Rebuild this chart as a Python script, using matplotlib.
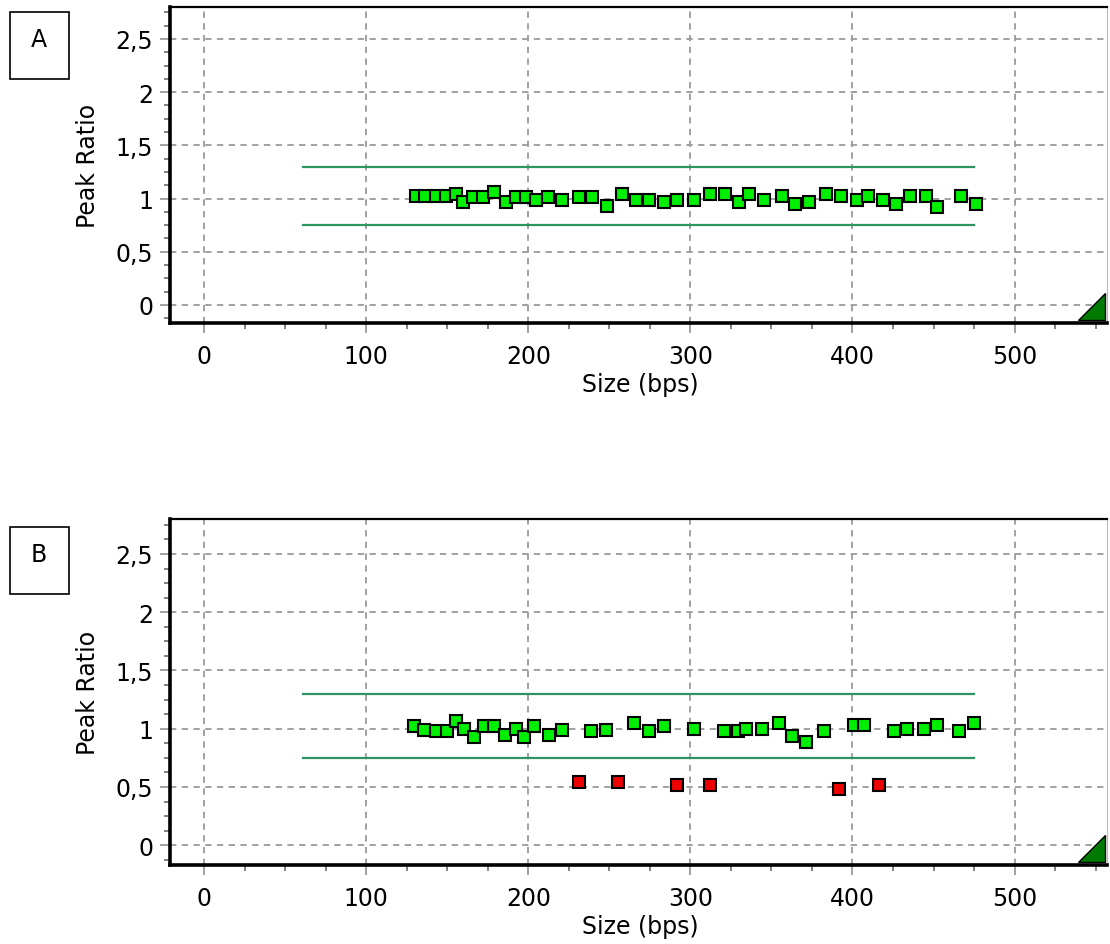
import matplotlib
matplotlib.use("Agg")
import matplotlib.pyplot as plt
from matplotlib.ticker import MultipleLocator, FuncFormatter
from matplotlib.patches import Polygon, Rectangle

# ---------------- data ----------------
a_size = [130.5, 136.6, 143.2, 149.4, 155.5, 160.0, 166.2, 172.3, 178.6, 186.3,
          192.4, 198.6, 204.7, 212.3, 221.1, 231.4, 239.6, 248.8, 258.0, 266.3,
          274.5, 284.0, 291.9, 302.2, 311.8, 321.2, 329.8, 336.0, 345.7, 356.5,
          364.3, 372.9, 383.6, 393.0, 402.6, 409.8, 419.0, 426.6, 435.5, 445.1,
          451.9, 466.9, 475.9]
a_ratio = [1.02, 1.02, 1.02, 1.02, 1.04, 0.97, 1.01, 1.01, 1.06, 0.97,
           1.01, 1.01, 0.99, 1.01, 0.99, 1.01, 1.01, 0.93, 1.04, 0.99,
           0.99, 0.97, 0.99, 0.99, 1.04, 1.04, 0.97, 1.04, 0.99, 1.02,
           0.95, 0.97, 1.04, 1.02, 0.99, 1.02, 0.99, 0.95, 1.02, 1.02,
           0.92, 1.02, 0.95]

b_size = [129.8, 135.4, 143.2, 149.7, 155.5, 160.6, 166.8, 172.9, 179.1, 185.8,
          192.4, 197.5, 203.7, 212.5, 220.7, 238.5, 248.2, 265.2, 274.5, 283.7,
          302.2, 321.0, 329.4, 334.6, 344.2, 354.5, 362.6, 371.3, 382.2, 401.2,
          407.4, 425.8, 433.4, 444.3, 451.9, 465.8, 475.1]
b_ratio = [1.02, 0.99, 0.98, 0.98, 1.07, 1.00, 0.93, 1.02, 1.02, 0.95,
           1.00, 0.93, 1.02, 0.95, 0.99, 0.98, 0.99, 1.05, 0.98, 1.02,
           1.00, 0.98, 0.98, 1.00, 1.00, 1.05, 0.94, 0.89, 0.98, 1.03,
           1.03, 0.98, 1.00, 1.00, 1.03, 0.98, 1.05]

b_fail_size = [231.4, 255.6, 291.5, 311.8, 391.8, 416.4]
b_fail_ratio = [0.54, 0.54, 0.52, 0.52, 0.48, 0.52]

threshold_upper = 1.30
threshold_lower = 0.75
threshold_range = [61, 475]

panel_labels = ["A", "B"]
x_label = "Size (bps)"
y_label = "Peak Ratio"

# ---------------- figure ----------------
W, H = 1110, 945
fig = plt.figure(figsize=(W / 100, H / 100), dpi=100)
plt.rcParams['font.family'] = ['DejaVu Sans']
FS = 17

def px_axes(left, top, right, bottom):
    return fig.add_axes([left / W, 1 - bottom / H, (right - left) / W, (bottom - top) / H])

axA = px_axes(170, 8, 1107, 324)
axB = px_axes(170, 520, 1107, 866)

fmt = FuncFormatter(lambda v, p: ('{:g}'.format(round(v, 3))).replace('.', ','))

green_line = '#2e9460'
grid_col = '#9a9a9a'

def style(ax, h_px):
    ax.set_xlim(-21, 557)
    ax.set_ylim(-0.17, 2.8)
    ax.xaxis.set_major_locator(MultipleLocator(100))
    ax.xaxis.set_minor_locator(MultipleLocator(25))
    ax.yaxis.set_major_locator(MultipleLocator(0.5))
    ax.yaxis.set_minor_locator(MultipleLocator(0.125))
    ax.yaxis.set_major_formatter(fmt)
    ax.grid(True, which='major', color=grid_col, linestyle=(0, (3.5, 3)), linewidth=1.3)
    ax.set_axisbelow(True)
    ax.tick_params(which='major', direction='out', length=7, width=1.3, color=grid_col,
                   labelsize=FS)
    ax.tick_params(axis='x', which='major', pad=8)
    ax.tick_params(axis='y', which='major', pad=5)
    ax.tick_params(which='minor', direction='out', length=4, width=1.3, color='#777777')
    for s in ['left', 'bottom']:
        ax.spines[s].set_linewidth(2.6)
        ax.spines[s].set_color('black')
    ax.spines['top'].set_linewidth(1.6)
    ax.spines['top'].set_color('black')
    ax.spines['right'].set_linewidth(0.8)
    ax.spines['right'].set_color('#bbbbbb')
    ax.set_xlabel(x_label, fontsize=FS, va='center')
    ax.xaxis.set_label_coords(0.5016, -61 / h_px)
    ax.set_ylabel(y_label, fontsize=FS, va='center')
    ax.yaxis.set_label_coords(-0.0875, 0.5)
    # thresholds
    ax.plot(threshold_range, [threshold_upper] * 2, color=green_line, lw=1.6, zorder=2)
    ax.plot(threshold_range, [threshold_lower] * 2, color=green_line, lw=1.6, zorder=2)
    # corner triangle (27 px wide/tall, 2.5 px above bottom spine)
    x0, x1 = (1078 - 170) / 937, (1105 - 170) / 937
    y0, y1 = 3.5 / h_px, 30 / h_px
    tri = Polygon([(x0, y0), (x1, y0), (x1, y1)], closed=True,
                  transform=ax.transAxes, facecolor='#007a00', edgecolor='black',
                  lw=1.0, zorder=5, clip_on=False)
    ax.add_patch(tri)

style(axA, 316)
style(axB, 346)

mk = dict(marker='s', linestyle='none', markersize=8, markeredgecolor='black',
          markeredgewidth=1.5, zorder=4)
axA.plot(a_size, a_ratio, markerfacecolor='#00ee00', **mk)
axB.plot(b_size, b_ratio, markerfacecolor='#00ee00', **mk)
axB.plot(b_fail_size, b_fail_ratio, markerfacecolor='#ee0000', **mk)

# panel label boxes
for (lbl, top) in zip(panel_labels, [13, 528]):
    fig.patches.append(Rectangle((10 / W, 1 - (top + 67) / H), 59 / W, 67 / H,
                                 transform=fig.transFigure, facecolor='white',
                                 edgecolor='black', lw=1.2))
    fig.text(39 / W, 1 - (top + 27) / H, lbl, ha='center', va='center', fontsize=FS)

fig.savefig('out.png', dpi=100)
